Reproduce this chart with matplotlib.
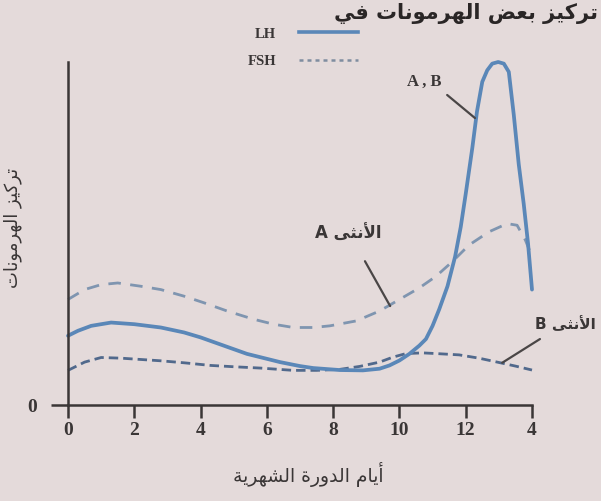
import matplotlib
matplotlib.use('Agg')
import matplotlib.pyplot as plt
from matplotlib.lines import Line2D

# ---------------- data ----------------
days_lh = [0, 0.3, 0.7, 1.3, 2.0, 2.8, 3.5, 4.0, 4.7, 5.4, 6.0, 6.4, 7.0, 7.4, 8.2,
           8.9, 9.4, 9.7, 10.0, 10.3, 10.6, 10.8, 11.0, 11.2, 11.45, 11.68, 11.85,
           12.0, 12.2, 12.34, 12.5, 12.65, 12.8, 12.98, 13.15, 13.3, 13.45, 13.6,
           13.75, 13.88, 14.0]
lh = [21, 22.5, 24, 25, 24.5, 23.5, 22, 20.5, 18, 15.5, 14, 13, 11.8, 11.2, 10.6,
      10.5, 11, 12, 13.5, 15.5, 18, 20, 24, 29, 36, 45, 54,
      64, 78, 89, 98, 101.5, 103.5, 104, 103.5, 101, 88, 73,
      61, 49, 35]

days_fsh_a = [0, 0.5, 1.0, 1.5, 2.2, 2.8, 3.5, 4.1, 4.8, 5.6, 6.2, 6.8, 7.4, 7.9,
              8.7, 9.4, 10.0, 10.6, 11.1, 11.6, 12.1, 12.7, 13.25, 13.55, 13.8, 14.0]
fsh_a = [32, 35, 36.5, 37, 36, 35, 33, 31, 28.5, 26, 24.5, 23.5, 23.5, 24,
         25.5, 28.5, 32, 35.5, 39, 43.5, 48.5, 52.5, 55, 54.5, 50, 45]

days_fsh_b = [0, 0.5, 1.0, 1.6, 2.8, 3.5, 4.3, 5.0, 5.8, 6.8, 7.5, 8.2, 8.8, 9.4,
              9.8, 10.2, 10.7, 11.1, 11.8, 12.4, 13.0, 13.5, 14.0]
fsh_b = [10.5, 13, 14.4, 14.2, 13.4, 12.8, 12, 11.6, 11.2, 10.5, 10.5, 10.8, 11.7, 13,
         14.5, 15.6, 15.8, 15.6, 15.2, 14.2, 12.9, 11.8, 10.6]

xticks = [0, 2, 4, 6, 8, 10, 12, 14]
xtick_labels = ['0', '2', '4', '6', '8', '10', '12', '4']
yticks = [0]
ytick_labels = ['0']

# ---------------- minimal Arabic shaping ----------------
FORMS = {
    'ا': ('\uFE8D', '\uFE8E', None, None),
    'أ': ('\uFE83', '\uFE84', None, None),
    'ب': ('\uFE8F', '\uFE90', '\uFE91', '\uFE92'),
    'ة': ('\uFE93', '\uFE94', None, None),
    'ت': ('\uFE95', '\uFE96', '\uFE97', '\uFE98'),
    'ث': ('\uFE99', '\uFE9A', '\uFE9B', '\uFE9C'),
    'د': ('\uFEA9', '\uFEAA', None, None),
    'ر': ('\uFEAD', '\uFEAE', None, None),
    'ز': ('\uFEAF', '\uFEB0', None, None),
    'ش': ('\uFEB5', '\uFEB6', '\uFEB7', '\uFEB8'),
    'ض': ('\uFEBD', '\uFEBE', '\uFEBF', '\uFEC0'),
    'ع': ('\uFEC9', '\uFECA', '\uFECB', '\uFECC'),
    'ف': ('\uFED1', '\uFED2', '\uFED3', '\uFED4'),
    'ك': ('\uFED9', '\uFEDA', '\uFEDB', '\uFEDC'),
    'ل': ('\uFEDD', '\uFEDE', '\uFEDF', '\uFEE0'),
    'م': ('\uFEE1', '\uFEE2', '\uFEE3', '\uFEE4'),
    'ن': ('\uFEE5', '\uFEE6', '\uFEE7', '\uFEE8'),
    'ه': ('\uFEE9', '\uFEEA', '\uFEEB', '\uFEEC'),
    'و': ('\uFEED', '\uFEEE', None, None),
    'ى': ('\uFEEF', '\uFEF0', None, None),
    'ي': ('\uFEF1', '\uFEF2', '\uFEF3', '\uFEF4'),
    'لا': ('\uFEFB', '\uFEFC', None, None),
    'لأ': ('\uFEF7', '\uFEF8', None, None),
}


def shape(text):
    units = []
    i = 0
    while i < len(text):
        c = text[i]
        if c == 'ل' and i + 1 < len(text) and text[i + 1] in ('ا', 'أ'):
            units.append(c + text[i + 1])
            i += 2
        else:
            units.append(c)
            i += 1
    res = []
    for k, u in enumerate(units):
        f = FORMS.get(u)
        if f is None:
            res.append(u)
            continue
        prev = units[k - 1] if k > 0 else None
        nxt = units[k + 1] if k + 1 < len(units) else None
        jp = prev in FORMS and FORMS[prev][2] is not None
        jn = f[2] is not None and nxt in FORMS
        if jp and jn:
            res.append(f[3])
        elif jp:
            res.append(f[1])
        elif jn:
            res.append(f[2])
        else:
            res.append(f[0])
    return ''.join(reversed(res))


title_txt = shape('تركيز بعض الهرمونات في')
ylabel_txt = shape('تركيز الهرمونات')
xlabel_txt = shape('أيام الدورة الشهرية')
label_a = 'A ' + shape('الأنثى')
label_b = 'B ' + shape('الأنثى')
label_ab = 'A , B'

# ---------------- figure ----------------
BG = '#e4dada'
INK = '#3a3636'
W, H = 601, 501
fig = plt.figure(figsize=(W / 100, H / 100), dpi=100, facecolor=BG)
ax = fig.add_axes([68 / W, 1 - 405 / H, 464 / W, 343 / H])
ax.set_facecolor(BG)

ax.plot(days_fsh_a, fsh_a, color='#7f95b0', lw=2.0, linestyle=(0, (4.5, 3.4)),
        clip_on=False, solid_joinstyle='round')
ax.plot(days_fsh_b, fsh_b, color='#51698c', lw=2.0, linestyle=(0, (3.4, 1.8)),
        clip_on=False)
ax.plot(days_lh, lh, color='#5a87b8', lw=2.7, clip_on=False,
        solid_joinstyle='round', solid_capstyle='round')

ax.set_xlim(0, 14)
ax.set_ylim(0, 104)
for s in ('top', 'right'):
    ax.spines[s].set_visible(False)
for s in ('left', 'bottom'):
    ax.spines[s].set_color(INK)
    ax.spines[s].set_linewidth(1.8)

ax.set_xticks(xticks)
ax.set_xticklabels(xtick_labels)
ax.set_yticks(yticks)
ax.set_yticklabels(ytick_labels)
ax.tick_params(axis='x', direction='out', length=9, width=1.8, color=INK,
               pad=3, labelsize=14, labelcolor=INK)
ax.tick_params(axis='y', direction='out', length=12, width=1.8, color=INK,
               pad=10, labelsize=14, labelcolor=INK)
for lbl in ax.get_xticklabels() + ax.get_yticklabels():
    lbl.set_fontfamily('Liberation Serif')
    lbl.set_fontweight('bold')

ax.set_xlabel(xlabel_txt, fontfamily='DejaVu Sans', fontsize=13.5, color=INK)
ax.xaxis.set_label_coords(240 / 464, -0.165)
ax.set_ylabel(ylabel_txt, fontfamily='DejaVu Sans', fontsize=13, color=INK)
ax.yaxis.set_label_coords(-46 / 464, (405 - 228) / 343)

# annotations
line_kw = dict(arrowstyle='-', color='#4a4646', lw=1.6, shrinkA=0, shrinkB=0)
ax.annotate('', xy=(9.72, 30), xytext=(8.96, 43.6), arrowprops=line_kw)
ax.text(8.45, 52, label_a, ha='center', va='center', fontsize=12,
        fontfamily='DejaVu Sans', fontweight='bold', color=INK)
ax.annotate('', xy=(12.28, 87), xytext=(11.44, 94), arrowprops=line_kw,
            annotation_clip=False)
ax.text(10.74, 98, label_ab, ha='center', va='center', fontsize=12,
        fontfamily='Liberation Serif', fontweight='bold', color=INK, clip_on=False)
ax.annotate('', xy=(13.1, 12.8), xytext=(14.24, 20), arrowprops=line_kw,
            annotation_clip=False)
ax.text(14.1, 24.6, label_b, ha='left', va='center', fontsize=11,
        fontfamily='DejaVu Sans', fontweight='bold', color=INK, clip_on=False)

# legend
handles = [Line2D([], [], color='#5a87b8', lw=2.6),
           Line2D([], [], color='#7f8da0', lw=1.8, linestyle=(0, (1.6, 1.6)))]
leg = ax.legend(handles, ['LH', 'FSH'], loc='upper left',
                bbox_to_anchor=(240 / W, 1 - 20 / H), bbox_transform=fig.transFigure,
                frameon=False, markerfirst=False, handlelength=4.0,
                labelspacing=1.0, handletextpad=1.6, borderpad=0,
                prop={'family': 'Liberation Serif', 'size': 10.5, 'weight': 'bold'})
for t in leg.get_texts():
    t.set_color(INK)

# title at top
fig.text(598 / W, 1 - 13 / H, title_txt, ha='right', va='center', fontsize=15,
         fontfamily='DejaVu Sans', fontweight='bold', color='#2a2626')

fig.savefig('out.png', dpi=100, facecolor=BG)
